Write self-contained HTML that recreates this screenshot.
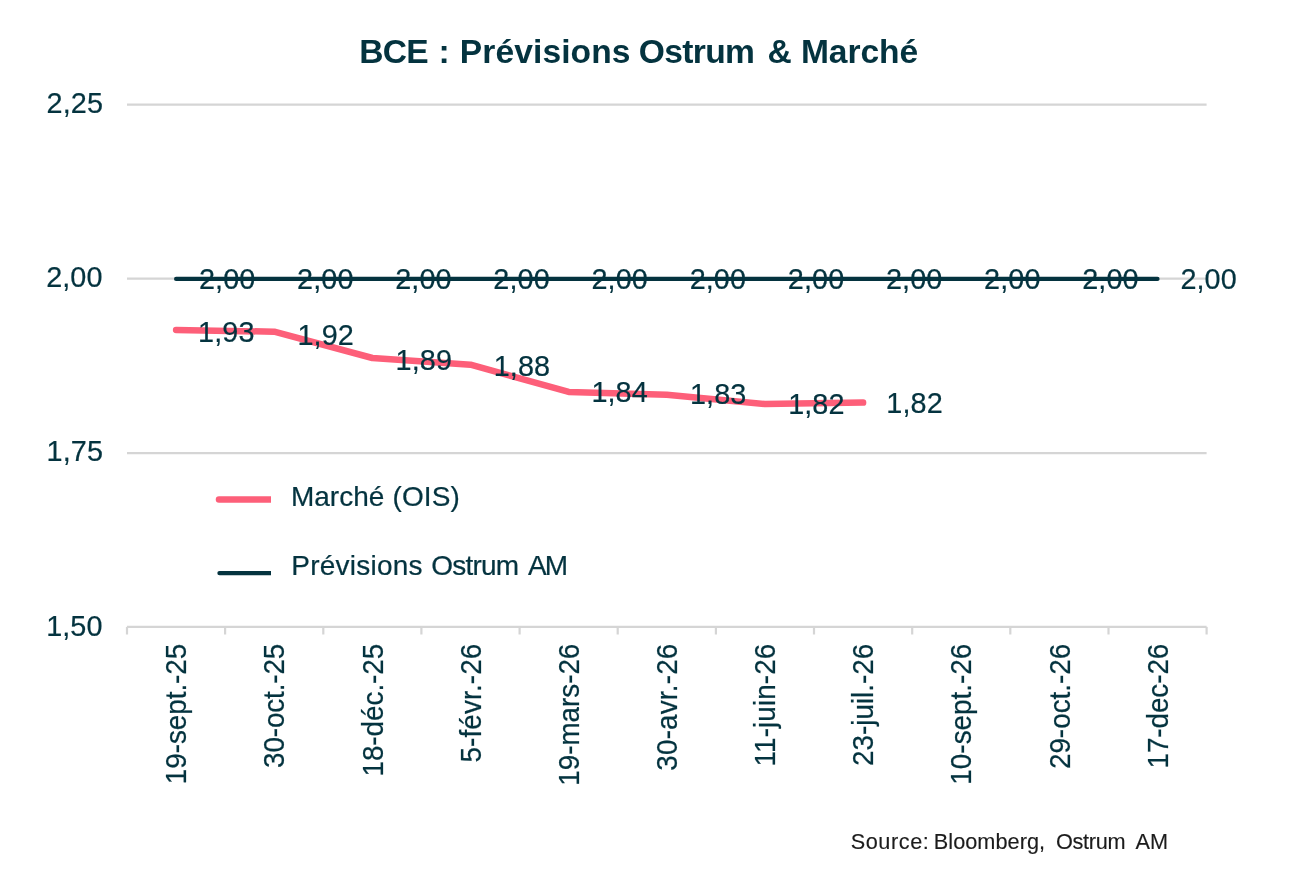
<!DOCTYPE html>
<html lang="fr"><head><meta charset="utf-8"><title>BCE : Prévisions Ostrum &amp; Marché</title>
<style>
html,body{margin:0;padding:0;background:#fff;}
body{width:1290px;height:887px;overflow:hidden;}
svg{display:block;}
text{font-family:"Liberation Sans",Arial,sans-serif;fill:#04333f;white-space:pre;stroke:#04333f;stroke-width:0.22px;}
</style></head><body>
<svg width="1290" height="887" viewBox="0 0 1290 887">
<rect width="1290" height="887" fill="#ffffff"/>
<g stroke="#d5d5d5" stroke-width="2.2">
<line x1="127.0" y1="104.7" x2="1206.6" y2="104.7"/>
<line x1="127.0" y1="278.6" x2="1206.6" y2="278.6"/>
<line x1="127.0" y1="453.2" x2="1206.6" y2="453.2"/>
<line x1="127.0" y1="626.9" x2="1206.6" y2="626.9"/>
<line x1="127.0" y1="626.9" x2="127.0" y2="634.5"/>
<line x1="225.1" y1="626.9" x2="225.1" y2="634.5"/>
<line x1="323.3" y1="626.9" x2="323.3" y2="634.5"/>
<line x1="421.4" y1="626.9" x2="421.4" y2="634.5"/>
<line x1="519.6" y1="626.9" x2="519.6" y2="634.5"/>
<line x1="617.7" y1="626.9" x2="617.7" y2="634.5"/>
<line x1="715.9" y1="626.9" x2="715.9" y2="634.5"/>
<line x1="814.0" y1="626.9" x2="814.0" y2="634.5"/>
<line x1="912.2" y1="626.9" x2="912.2" y2="634.5"/>
<line x1="1010.3" y1="626.9" x2="1010.3" y2="634.5"/>
<line x1="1108.5" y1="626.9" x2="1108.5" y2="634.5"/>
<line x1="1206.6" y1="626.9" x2="1206.6" y2="634.5"/>
</g>
<g id="title">
<text x="359.30" y="63.30" font-size="33.6" font-weight="bold" letter-spacing="-0.827" style="stroke-width:0px;">BCE</text>
<text x="438.55" y="63.30" font-size="33.6" font-weight="bold" letter-spacing="0.000" style="stroke-width:0px;">:</text>
<text x="459.70" y="63.30" font-size="33.6" font-weight="bold" letter-spacing="0.112" style="stroke-width:0px;">Prévisions</text>
<text x="638.85" y="63.30" font-size="33.6" font-weight="bold" letter-spacing="-0.657" style="stroke-width:0px;">Ostrum</text>
<text x="767.55" y="63.30" font-size="33.6" font-weight="bold" letter-spacing="0.000" style="stroke-width:0px;">&amp;</text>
<text x="800.90" y="63.30" font-size="33.6" font-weight="bold" letter-spacing="-0.063" style="stroke-width:0px;">Marché</text>
</g>
<g id="yaxis">
<text x="46.61" y="112.50" font-size="28.8" letter-spacing="0.100">2,25</text>
<text x="46.16" y="287.30" font-size="28.8" letter-spacing="0.100">2,00</text>
<text x="46.61" y="461.10" font-size="28.8" letter-spacing="0.100">1,75</text>
<text x="46.16" y="635.90" font-size="28.8" letter-spacing="0.100">1,50</text>
</g>
<polyline points="176.1,330.0 274.2,331.7 372.4,358.0 470.5,364.7 568.7,391.9 666.8,394.7 764.9,404.1 863.1,402.6" fill="none" stroke="#fd5f79" stroke-width="6.5" stroke-linecap="round" stroke-linejoin="round"/>
<line x1="176.1" y1="278.9" x2="1157.5" y2="278.9" stroke="#04333f" stroke-width="4.2" stroke-linecap="round"/>
<g id="labels">
<text x="198.92" y="288.60" font-size="28.8" letter-spacing="0.105">2,00</text>
<text x="297.07" y="288.60" font-size="28.8" letter-spacing="0.105">2,00</text>
<text x="395.21" y="288.60" font-size="28.8" letter-spacing="0.105">2,00</text>
<text x="493.36" y="288.60" font-size="28.8" letter-spacing="0.105">2,00</text>
<text x="591.50" y="288.60" font-size="28.8" letter-spacing="0.105">2,00</text>
<text x="689.65" y="288.60" font-size="28.8" letter-spacing="0.105">2,00</text>
<text x="787.80" y="288.60" font-size="28.8" letter-spacing="0.105">2,00</text>
<text x="885.94" y="288.60" font-size="28.8" letter-spacing="0.105">2,00</text>
<text x="984.09" y="288.60" font-size="28.8" letter-spacing="0.105">2,00</text>
<text x="1082.23" y="288.60" font-size="28.8" letter-spacing="0.105">2,00</text>
<text x="1180.38" y="288.60" font-size="28.8" letter-spacing="0.105">2,00</text>
<text x="198.09" y="342.00" font-size="28.8" letter-spacing="0.100">1,93</text>
<text x="297.43" y="345.10" font-size="28.8" letter-spacing="0.100">1,92</text>
<text x="395.58" y="369.60" font-size="28.8" letter-spacing="0.100">1,89</text>
<text x="493.72" y="375.90" font-size="28.8" letter-spacing="0.100">1,88</text>
<text x="591.42" y="402.40" font-size="28.8" letter-spacing="0.100">1,84</text>
<text x="690.01" y="404.00" font-size="28.8" letter-spacing="0.100">1,83</text>
<text x="788.16" y="413.90" font-size="28.8" letter-spacing="0.100">1,82</text>
<text x="886.30" y="413.10" font-size="28.8" letter-spacing="0.100">1,82</text>
</g>
<clipPath id="lk"><rect x="200" y="480" width="71" height="110"/></clipPath>
<g clip-path="url(#lk)"><line x1="219" y1="499.5" x2="280" y2="499.5" stroke="#fd5f79" stroke-width="6.5" stroke-linecap="round"/>
<line x1="219.5" y1="573.1" x2="280" y2="573.1" stroke="#04333f" stroke-width="4.4" stroke-linecap="round"/></g>
<text transform="translate(291.01,506.40) scale(1.045,1)" font-size="26.8" letter-spacing="-0.012">Marché</text>
<text transform="translate(392.49,506.40) scale(1.045,1)" font-size="26.8" letter-spacing="0.135">(OIS)</text>
<text transform="translate(291.31,574.80) scale(1.045,1)" font-size="26.8" letter-spacing="0.232">Prévisions</text>
<text transform="translate(431.29,574.80) scale(1.045,1)" font-size="26.8" letter-spacing="-0.753">Ostrum</text>
<text transform="translate(527.90,574.80) scale(1.045,1)" font-size="26.8" letter-spacing="-1.839">AM</text>
<g id="xaxis">
<text transform="translate(186.27,784.24) rotate(-90) scale(1,1.09)" font-size="27.85" letter-spacing="-0.031">19-sept.-25</text>
<text transform="translate(284.42,767.97) rotate(-90) scale(1,1.09)" font-size="27.85" letter-spacing="-0.122">30-oct.-25</text>
<text transform="translate(382.56,776.54) rotate(-90) scale(1,1.09)" font-size="27.85" letter-spacing="-0.031">18-déc.-25</text>
<text transform="translate(480.71,762.57) rotate(-90) scale(1,1.09)" font-size="27.85" letter-spacing="0.140">5-févr.-26</text>
<text transform="translate(578.85,785.64) rotate(-90) scale(1,1.09)" font-size="27.85" letter-spacing="-0.047">19-mars-26</text>
<text transform="translate(677.00,770.67) rotate(-90) scale(1,1.09)" font-size="27.85" letter-spacing="0.178">30-avr.-26</text>
<text transform="translate(775.15,766.44) rotate(-90) scale(1,1.09)" font-size="27.85" letter-spacing="0.109">11-juin-26</text>
<text transform="translate(873.29,766.01) rotate(-90) scale(1,1.09)" font-size="27.85" letter-spacing="0.004">23-juil.-26</text>
<text transform="translate(971.44,784.64) rotate(-90) scale(1,1.09)" font-size="27.85" letter-spacing="0.009">10-sept.-26</text>
<text transform="translate(1069.58,769.11) rotate(-90) scale(1,1.09)" font-size="27.85" letter-spacing="0.005">29-oct.-26</text>
<text transform="translate(1167.73,768.54) rotate(-90) scale(1,1.09)" font-size="27.85" letter-spacing="-0.067">17-dec-26</text>
</g>
<g id="source">
<text x="850.72" y="849.10" font-size="21.7" letter-spacing="0.559" style="fill:#1c1c1c;stroke:#1c1c1c;stroke-width:0.15px;">Source:</text>
<text x="933.80" y="849.10" font-size="21.7" letter-spacing="0.039" style="fill:#1c1c1c;stroke:#1c1c1c;stroke-width:0.15px;">Bloomberg,</text>
<text x="1055.88" y="849.10" font-size="21.7" letter-spacing="-0.278" style="fill:#1c1c1c;stroke:#1c1c1c;stroke-width:0.15px;">Ostrum</text>
<text x="1135.40" y="849.10" font-size="21.7" letter-spacing="0.112" style="fill:#1c1c1c;stroke:#1c1c1c;stroke-width:0.15px;">AM</text>
</g>
</svg></body></html>
